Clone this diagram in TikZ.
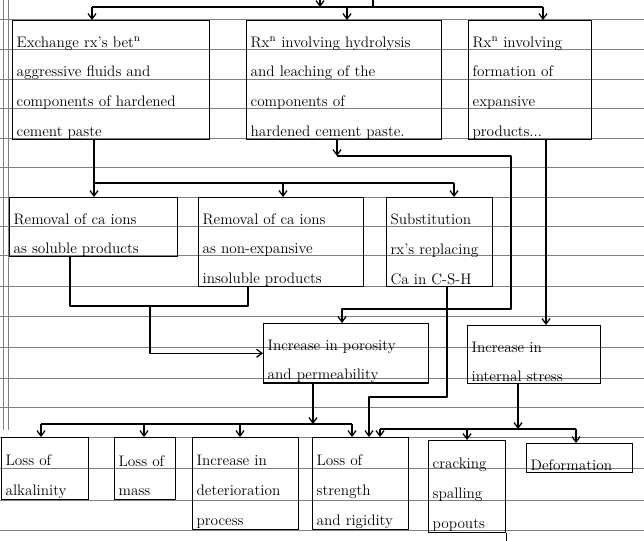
\documentclass[tikz,border=0pt]{standalone}
\usepackage{tikz}
\usetikzlibrary{arrows.meta, positioning}
\newcommand{\rowstrut}{\rule[-1.5pt]{0pt}{24pt}}
\tikzstyle{box} = [rectangle, draw=black, line width=1.1pt, anchor=north west, inner xsep=1.2mm, inner ysep=0pt, align=left, font=\fontsize{13}{25.4}\selectfont, execute at begin node=\rowstrut, execute at end node=\rowstrut]
\tikzstyle{arrow} = [line width=1.1pt, line join=round, -{Straight Barb[length=1.6mm, width=2.4mm]}]
\tikzstyle{link} = [line width=1.1pt, line join=round]
\tikzstyle{ruled} = [black!50, line width=0.6pt]
\tikzset{boxsize/.code 2 args={%
  \pgfmathsetmacro\bw{#1*0.3}\pgfmathsetmacro\bh{#2*0.3}\pgfmathsetmacro\tw{(#1-8)*0.3}%
  \edef\boxopts{\noexpand\pgfkeysalso{minimum width=\bw mm, minimum height=\bh mm, text width=\tw mm}}\boxopts}}

\begin{document}
\begin{tikzpicture}[x=0.3mm, y=-0.3mm]
\useasboundingbox (0,0) rectangle (644,541);

% ruled paper
\foreach \y in {19,49,79,108,138,167,197,226,255,286,316,347,378,407,437,468,500,530}
  \draw [ruled] (0,\y) -- (644,\y);
\draw [ruled] (3,0) -- (3,430);
\draw [ruled] (8.5,0) -- (8.5,430);

% first row
\node (exch) [box, boxsize={197}{118}] at (12,20) {Exchange rx's bet\textsuperscript{n}\\aggressive fluids and\\components of hardened\\cement paste};
\node (hydro) [box, boxsize={195}{118}] at (246,20) {Rx\textsuperscript{n} involving hydrolysis\\and leaching of the\\components of\\hardened cement paste.};
\node (expan) [box, boxsize={123}{118}] at (468,20) {Rx\textsuperscript{n} involving\\formation of\\expansive\\products...};

% second row
\node (remsol) [box, boxsize={168}{58}] at (9,197) {Removal of ca ions\\as soluble products};
\node (reminsol) [box, boxsize={165}{89}] at (198,197) {Removal of ca ions\\as non-expansive\\insoluble products};
\node (subst) [box, boxsize={106}{89}] at (386,197) {Substitution\\rx's replacing\\Ca in C-S-H};

% third row
\node (poros) [box, boxsize={165}{58}] at (263,323) {Increase in porosity\\and permeability};
\node (stress) [box, boxsize={133}{58}] at (467,325) {Increase in\\internal stress};

% last row
\node (alkal) [box, boxsize={87}{62}] at (1,437) {Loss of\\alkalinity};
\node (mass) [box, boxsize={61}{62}] at (114,437) {Loss of\\mass};
\node (deter) [box, boxsize={106}{92}] at (192,437) {Increase in\\deterioration\\process};
\node (strength) [box, boxsize={96}{92}] at (312,437) {Loss of\\strength\\and rigidity};
\node (crack) [box, boxsize={77}{92}] at (428,440) {cracking\\spalling\\popouts};
\node (deform) [box, boxsize={106}{29}] at (526,443) {Deformation};

% Arrows
\coordinate (in1) at (320,0);
\coordinate (in2) at (373,0);
\coordinate (b1) at (92,7);
\coordinate (b2) at (347,7);
\coordinate (b3) at (543,7);
\draw [arrow] (in1) -- (in1 |- b1);
\draw [link] (in2) -- (in2 |- b1);
\draw [link] (b1) -- (b3);
\draw [arrow] (b1) -- (b1 |- exch.north);
\draw [arrow] (b2) -- (b2 |- hydro.north);
\draw [arrow] (b3) -- (b3 |- expan.north);

\coordinate (r1) at (94,183);
\coordinate (r2) at (283,183);
\coordinate (r3) at (454,183);
\draw [link] (r1 |- exch.south) -- (r1) -- (r3);
\draw [arrow] (r1) -- (r1 |- remsol.north);
\draw [arrow] (r2) -- (r2 |- reminsol.north);
\draw [arrow] (r3) -- (r3 |- subst.north);

\coordinate (h1) at (337,156);
\coordinate (h2) at (511,156);
\coordinate (h3) at (511,309);
\coordinate (h4) at (342,309);
\draw [arrow] (h1 |- hydro.south) -- (h1);
\draw [arrow] (h1) -- (h2) -- (h3) -- (h4) -- (h4 |- poros.north);

\coordinate (e1) at (546,0);
\draw [arrow] (e1 |- expan.south) -- (e1 |- stress.north);

\coordinate (c1) at (70,306);
\coordinate (c2) at (248,306);
\coordinate (c3) at (150,306);
\draw [link] (c1 |- remsol.south) -- (c1) -- (c2) -- (c2 |- reminsol.south);
\draw [arrow] (c3) |- (poros.west);

\coordinate (s1) at (447,397);
\coordinate (s2) at (369,397);
\draw [arrow] (s1 |- subst.south) -- (s1) -- (s2) -- (s2 |- strength.north);

\coordinate (p0) at (313,424);
\coordinate (p1) at (41,424);
\coordinate (p2) at (144,424);
\coordinate (p3) at (240,424);
\coordinate (p4) at (352,424);
\draw [arrow] (p0 |- poros.south) -- (p0);
\draw [link] (p1) -- (p4);
\draw [arrow] (p1) -- (p1 |- alkal.north);
\draw [arrow] (p2) -- (p2 |- mass.north);
\draw [arrow] (p3) -- (p3 |- deter.north);
\draw [arrow] (p4) -- (p4 |- strength.north);

\coordinate (t0) at (518,429);
\coordinate (t1) at (380,429);
\coordinate (t2) at (467,429);
\coordinate (t3) at (576,429);
\draw [arrow] (t0 |- stress.south) -- (t0);
\draw [link] (t1) -- (t3);
\draw [arrow] (t1) -- (t1 |- strength.north);
\draw [arrow] (t2) -- (t2 |- crack.north);
\draw [arrow] (t3) -- (t3 |- deform.north);
\draw [link] (crack.south east) -- ++(0,11);
\end{tikzpicture}
\end{document}
